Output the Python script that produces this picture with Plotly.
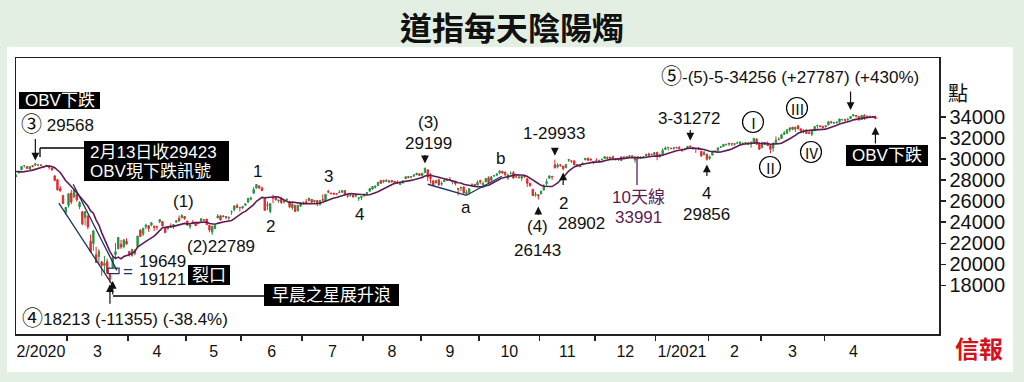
import pandas as pd
import plotly.graph_objects as go

# ---------------- data (Dow Jones daily OHLC, Feb 3 2020 - Apr 28 2021) ----------------
month_labels = ["2/2020", "3", "4", "5", "6", "7", "8", "9", "10", "11", "12", "1/2021", "2", "3", "4"]
month_trading_days = [19, 22, 21, 20, 22, 22, 21, 21, 22, 20, 22, 19, 19, 23, 21]
y_tick_values = [18000, 20000, 22000, 24000, 26000, 28000, 30000, 32000, 34000]

warmup_closes = [29196, 29186, 29160, 28990, 28536, 28723, 28734, 28860, 28256]  # late Jan 2020, for the 10-day line

opens = [
    28319, 28696, 28982, 29364, 29286, 29020, 29365, 29406, 29420, 29440, 29279, 29390, 29318, 29150, 28402, 28024, 27200, 26526, 24915,
    25590, 26762, 26383, 26671, 25458, 24992, 24453, 24604, 22185, 21973, 20917, 20739, 20252, 19900, 20253, 19028, 19722, 20918, 21469, 21898, 21678, 22208,
    21227, 20819, 21285, 21694, 23260, 22874, 23563, 23675, 23729, 23636, 23550, 24033, 24064, 23438, 23368, 23532, 23567, 23990, 24362, 24425, 24537,
    24120, 23572, 23988, 23999, 23915, 24083, 24229, 24302, 23705, 23049, 23408, 24404, 24600, 24495, 24530, 24391, 24993, 25187, 25572, 25384,
    25344, 25616, 25887, 26180, 26737, 27232, 27447, 27251, 26283, 25659, 25011, 26337, 26301, 26016, 26245, 25900, 26129, 25981, 25364, 25603, 25089, 25513,
    25879, 25933, 26052, 26167, 25935, 26053, 25704, 26150, 25958, 26911, 26740, 26763, 26685, 26791, 26850, 26993, 26505, 26532, 26568, 26444, 26256, 26325,
    26502, 26616, 26934, 27138, 27302, 27480, 27925, 27844, 27964, 27796, 27950, 27874, 27794, 27581, 27745, 28123, 28342, 28274, 28369, 28493, 28599,
    28439, 28689, 28966, 28341, 27934, 27713, 28022, 27606, 27839, 28084, 28043, 27804, 27893, 27205, 27245, 27344, 26709, 26808, 27482, 27593, 27510,
    27941, 27536, 27825, 28214, 27971, 28389, 28461, 28671, 28838, 28724, 28178, 28597, 28706, 28298, 28290, 28172, 28398, 28123, 27697, 27124, 26567, 26574,
    26681, 27047, 27668, 28158, 28340, 29440, 29252, 29452, 29330, 29156, 29870, 29830, 29803, 29328, 29432, 29450, 29910, 30082, 29998, 29751,
    29829, 29749, 29930, 30046, 30162, 30061, 30203, 29998, 29944, 30196, 30034, 30222, 30232, 30296, 29908, 30217, 30054, 30149, 30283, 30492, 30415, 30417,
    30627, 30205, 30400, 30904, 31069, 31016, 31015, 31087, 31085, 30926, 30887, 31035, 31232, 31087, 31004, 31036, 30730, 30415, 30461,
    30054, 30363, 30721, 30795, 31091, 31181, 31340, 31490, 31441, 31371, 31518, 31409, 31472, 31560, 31395, 31417, 31500, 31878, 31484,
    31065, 31566, 31416, 31265, 31025, 31532, 31860, 31940, 32330, 32444, 32757, 33005, 32826, 33132, 32862, 32643, 32733, 32483, 32339, 32681, 33134, 33137, 33085,
    33054, 33222, 33522, 33436, 33452, 33508, 33740, 33766, 33693, 33843, 34082, 34123, 34029, 33745, 34138, 33898, 34064, 34001, 34004,
]
highs = [
    28592, 28892, 29301, 29409, 29286, 29278, 29416, 29568, 29489, 29440, 29333, 29407, 29370, 29150, 28402, 28112, 27454, 26545, 25450,
    26706, 27084, 27102, 26671, 25994, 24992, 25020, 24604, 22837, 23186, 21666, 21451, 20254, 20800, 20531, 19121, 20737, 22019, 22595, 22327, 22378, 22480,
    21227, 21477, 21447, 22701, 23328, 23449, 23860, 23675, 24016, 23636, 23672, 24264, 24064, 23438, 23566, 23887, 23782, 24187, 24638, 24764, 24537,
    24120, 23779, 24208, 24002, 24026, 24370, 24285, 24303, 23706, 23630, 23714, 24779, 24676, 24657, 24548, 24509, 25110, 25565, 25762, 25431,
    25562, 25743, 26270, 26425, 27338, 27580, 27447, 27355, 26283, 25960, 25796, 26611, 26406, 26123, 26409, 26096, 26266, 25995, 25748, 25603, 25601, 25905,
    25958, 26204, 26292, 26186, 26073, 26053, 26078, 26631, 26659, 27075, 26803, 26763, 26720, 27041, 27012, 27054, 26567, 26592, 26598, 26636, 26360, 26475,
    26682, 26840, 27223, 27401, 27460, 27799, 28029, 27998, 28073, 27960, 28016, 27875, 27981, 27767, 27934, 28363, 28342, 28366, 28502, 28658, 28599,
    28651, 29199, 28966, 28647, 27934, 28037, 28143, 27880, 28119, 28138, 28288, 27977, 27893, 27205, 27406, 27391, 27081, 27213, 27688, 27593, 27950,
    28042, 27861, 28162, 28354, 28370, 28481, 28592, 28956, 28838, 28840, 28527, 28826, 28860, 28531, 28481, 28425, 28404, 28123, 27697, 27124, 26889, 26669,
    27018, 27602, 28112, 28446, 28393, 29933, 29593, 29452, 29330, 29504, 29964, 29830, 29888, 29516, 29455, 29681, 30116, 30082, 29998, 29751,
    30083, 29893, 30004, 30219, 30233, 30190, 30319, 30075, 30053, 30218, 30210, 30225, 30326, 30296, 30226, 30233, 30262, 30209, 30525, 30588, 30526, 30637,
    30674, 30504, 31022, 31193, 31140, 31043, 31119, 31153, 31223, 30937, 31018, 31235, 31272, 31087, 31035, 31126, 30730, 30773, 30461,
    30335, 30771, 30837, 31058, 31232, 31386, 31469, 31517, 31485, 31464, 31644, 31641, 31527, 31618, 31631, 31687, 31982, 31964, 31565,
    31625, 31617, 31670, 31310, 31574, 32150, 32047, 32389, 32661, 32793, 32960, 33056, 33047, 33227, 32862, 32784, 32811, 32759, 32660, 33098, 33259, 33173, 33163,
    33167, 33617, 33618, 33530, 33518, 33810, 33783, 33786, 33913, 34037, 34256, 34145, 34029, 34147, 34243, 34145, 34092, 34066, 34106,
]
lows = [
    28319, 28600, 28981, 29170, 29056, 29020, 29225, 29406, 29314, 29315, 29117, 29292, 29000, 28860, 27882, 26996, 26927, 25750, 24681,
    25391, 25706, 26287, 25943, 25226, 23707, 23690, 23328, 21154, 21285, 20117, 19935, 18917, 19177, 19094, 18213, 19649, 20543, 21469, 21469, 21522, 21890,
    20735, 20737, 20863, 21694, 22634, 22681, 23334, 23083, 23606, 23173, 23270, 23918, 23601, 22942, 23300, 23480, 23373, 23990, 24083, 24365, 24239,
    23645, 23361, 23804, 23645, 23821, 24083, 24071, 23760, 23042, 22789, 23317, 24404, 24197, 24495, 24281, 24229, 24689, 25037, 25313, 25021,
    25262, 25522, 25887, 26056, 26737, 27232, 27129, 26964, 25082, 25159, 24843, 25806, 26071, 25833, 25722, 25768, 25996, 25326, 25172, 24971, 25009, 25500,
    25728, 25792, 25961, 25865, 25818, 25523, 25574, 26069, 25921, 26739, 26598, 26598, 26551, 26791, 26784, 26539, 26312, 26417, 26366, 26444, 26022, 26084,
    26435, 26593, 26934, 27059, 27199, 27416, 27613, 27708, 27809, 27707, 27751, 27583, 27664, 27513, 27645, 28104, 28158, 28164, 28306, 28493, 28395,
    28259, 28689, 27908, 27664, 27456, 27713, 27452, 27467, 27839, 27911, 27968, 27589, 27485, 26537, 26960, 26718, 26537, 26620, 27389, 27373, 27510,
    27596, 27383, 27825, 27728, 27971, 28297, 28364, 28544, 28583, 28381, 28001, 28597, 28091, 28196, 28178, 27923, 28199, 27351, 27387, 26502, 26414, 26143,
    26681, 27047, 27440, 28158, 28014, 29100, 29101, 29256, 28902, 29156, 29717, 29625, 29430, 29222, 29249, 29445, 29910, 29813, 29851, 29506,
    29736, 29617, 29859, 30022, 30027, 29977, 30005, 29852, 29822, 29850, 29954, 30081, 30166, 30070, 29643, 29987, 30054, 30123, 30283, 30316, 30393, 30393,
    29881, 30155, 30388, 30897, 30793, 30906, 30865, 30997, 30974, 30670, 30806, 30969, 31089, 30851, 30577, 30848, 30183, 30338, 29856,
    29905, 30363, 30641, 30774, 31091, 31181, 31276, 31234, 31235, 31269, 31423, 31326, 31293, 31404, 31380, 31058, 31445, 31376, 30864,
    31065, 31366, 31260, 30547, 30687, 31532, 31782, 31940, 32330, 32356, 32547, 32718, 32545, 32781, 32525, 32428, 32381, 32401, 32167, 32681, 32867, 33019, 32949,
    32985, 33222, 33402, 33312, 33327, 33426, 33609, 33565, 33647, 33843, 34082, 33905, 33600, 33713, 33716, 33817, 33857, 33893, 33800,
]
closes = [
    28400, 28808, 29291, 29380, 29103, 29277, 29276, 29551, 29423, 29398, 29232, 29348, 29220, 28992, 27961, 27081, 26957, 25766, 25409,
    26703, 25917, 27091, 26121, 25864, 23851, 25018, 23553, 21200, 23185, 20188, 21237, 19899, 20087, 19174, 18591, 20704, 21200, 22552, 21637, 22327, 21917,
    20943, 21413, 21052, 22680, 22653, 23433, 23719, 23390, 23949, 23504, 23537, 24242, 23650, 23018, 23475, 23515, 23775, 24134, 24101, 24634, 24346,
    23724, 23749, 23883, 23664, 23875, 24331, 24221, 23764, 23248, 23625, 23685, 24597, 24206, 24576, 24474, 24465, 24995, 25548, 25401, 25383,
    25475, 25742, 26269, 26282, 27111, 27572, 27272, 26990, 25128, 25606, 25763, 26290, 26120, 26080, 25871, 26025, 26156, 25445, 25745, 25016, 25596, 25813,
    25734, 25827, 26287, 25890, 26067, 25706, 26075, 26086, 26643, 26870, 26734, 26672, 26680, 26840, 27005, 26652, 26470, 26584, 26379, 26539, 26314, 26428,
    26664, 26828, 27202, 27387, 27433, 27791, 27687, 27977, 27897, 27931, 27844, 27778, 27693, 27740, 27930, 28308, 28249, 28332, 28492, 28654, 28430,
    28646, 29100, 28292, 28133, 27501, 27940, 27535, 27666, 27993, 27995, 28032, 27902, 27657, 27148, 27289, 26764, 26816, 27174, 27585, 27453, 27782,
    27817, 27683, 28149, 27773, 28303, 28426, 28587, 28838, 28680, 28515, 28494, 28606, 28195, 28309, 28211, 28364, 28336, 27685, 27464, 26520, 26659, 26502,
    26925, 27480, 27847, 28390, 28323, 29158, 29421, 29398, 29080, 29480, 29950, 29784, 29438, 29483, 29263, 29591, 30046, 29872, 29910, 29638,
    29823, 29883, 29969, 30218, 30069, 30174, 30068, 29999, 30046, 29861, 30199, 30155, 30303, 30179, 30216, 30015, 30129, 30200, 30404, 30336, 30409, 30606,
    30224, 30392, 30829, 31041, 31098, 31009, 31068, 31060, 30991, 30814, 30931, 31188, 31176, 30997, 30960, 30937, 30303, 30603, 29983,
    30212, 30688, 30724, 31055, 31148, 31385, 31375, 31437, 31430, 31458, 31523, 31613, 31494, 31494, 31522, 31537, 31962, 31402, 30932,
    31535, 31391, 31270, 30924, 31496, 31802, 31832, 32297, 32485, 32779, 32953, 32826, 33015, 32862, 32628, 32732, 32423, 32420, 32619, 33073, 33171, 33067, 32982,
    33153, 33527, 33430, 33446, 33504, 33800, 33746, 33677, 33730, 34036, 34201, 34078, 33821, 34138, 33815, 34043, 33982, 33985, 33820,
]

# analyst lines drawn on the chart: (trading-day index, index level)
crash_channel_lower = ([15.5, 35.0], [25800, 18000])
crash_channel_upper = ([20.7, 36.5], [27600, 19430])
wave_a_line = ([149.0, 163.0], [27600, 26555])
wave_b_line = ([163.0, 175.8], [26555, 28360])
gap_box_x = [33.3, 37.3]
gap_box_y = [19121, 19649]

n = len(closes)
assert len(opens) == len(highs) == len(lows) == n
idx = list(range(n))
ma10 = pd.Series(warmup_closes + closes).rolling(10).mean().iloc[len(warmup_closes):].tolist()

starts = [sum(month_trading_days[:i]) for i in range(len(month_trading_days))]
centers = [s + (d - 1) / 2 for s, d in zip(starts, month_trading_days)]
boundaries = [s - 0.5 for s in starts[1:]]

# ---------------- geometry / style ----------------
W, H = 1024, 382
L, R, T, B = 16, 939, 58, 334
PW, PH = R - L, B - T
GREEN, RED, PURPLE, NAVY = "#2b9142", "#e8262d", "#5e1c55", "#1d3461"
BGGREEN = "#e2efe2"
FONT = "Liberation Sans, Arial, Noto Sans CJK TC, sans-serif"
CJK = "Noto Sans CJK TC, Liberation Sans, sans-serif"


def pxx(px):
    return (px - L) / PW


def pyy(py):
    return (B - py) / PH


def big(ch):
    return f'<span style="font-size:21px">{ch}</span>'


fig = go.Figure()
fig.add_trace(go.Candlestick(
    x=idx, open=opens, high=highs, low=lows, close=closes,
    increasing=dict(line=dict(color=GREEN, width=1), fillcolor=GREEN),
    decreasing=dict(line=dict(color=RED, width=1), fillcolor=RED),
    whiskerwidth=0, showlegend=False, hoverinfo="skip"))
fig.add_trace(go.Scatter(x=idx, y=ma10, mode="lines", line=dict(color=PURPLE, width=1.6),
                         showlegend=False, hoverinfo="skip"))
for xs, ys in [crash_channel_lower, crash_channel_upper, wave_a_line, wave_b_line]:
    fig.add_trace(go.Scatter(x=xs, y=ys, mode="lines", line=dict(color=NAVY, width=1.3),
                             showlegend=False, hoverinfo="skip"))

shapes = []
# white panel
shapes.append(dict(type="rect", xref="paper", yref="paper", x0=pxx(7), x1=pxx(1013), y0=pyy(372), y1=pyy(47),
                   fillcolor="white", line=dict(width=0), layer="below"))
# gap box
shapes.append(dict(type="rect", xref="x", yref="y", x0=gap_box_x[0], x1=gap_box_x[1], y0=gap_box_y[0], y1=gap_box_y[1],
                   line=dict(color=NAVY, width=1.2)))
# black label boxes
for x0, y0, x1, y1 in [(19, 92, 100, 109), (84, 141, 229, 181), (188, 265, 230, 285), (264, 284, 399, 306), (846, 145, 928, 166)]:
    shapes.append(dict(type="rect", xref="paper", yref="paper", x0=pxx(x0), x1=pxx(x1), y0=pyy(y1), y1=pyy(y0),
                       fillcolor="black", line=dict(width=0), layer="above"))
# connector lines
for x0, y0, x1, y1, col in [(40, 148, 84, 148, "black"), (40, 148, 40, 157, "black"),
                            (113, 296, 264, 296, "black"), (637, 159, 637, 185, PURPLE)]:
    shapes.append(dict(type="line", xref="paper", yref="paper", x0=pxx(x0), x1=pxx(x1), y0=pyy(y0), y1=pyy(y1),
                       line=dict(color=col, width=1.3)))
# circles around roman numerals
roman = [("Ⅰ", 753, 122), ("Ⅱ", 770, 167), ("Ⅲ", 797, 108), ("Ⅳ", 811, 152)]
for _, cx, cy in roman:
    shapes.append(dict(type="circle", xref="paper", yref="paper", x0=pxx(cx - 10.5), x1=pxx(cx + 10.5),
                       y0=pyy(cy + 10.5), y1=pyy(cy - 10.5), line=dict(color="black", width=1.2)))

ann = []


def text(t, px, py, size=17, color="#111", xanchor="center", family=FONT):
    ann.append(dict(x=pxx(px), y=pyy(py), xref="paper", yref="paper", text=t, showarrow=False,
                    xanchor=xanchor, yanchor="middle", font=dict(family=family, size=size, color=color)))


def arrow(xi, yv, ay, standoff):
    ann.append(dict(x=xi, y=yv, xref="x", yref="y", text="", showarrow=True, ax=0, ay=ay,
                    arrowhead=2, arrowsize=1.3, arrowwidth=1.2, arrowcolor="#111", standoff=standoff))


text("<b>道指每天陰陽燭</b>", 512, 26, size=32, family=CJK)
text("點", 958, 92, size=20, family=CJK)
text("<b>信報</b>", 979, 347, size=24, color="#d3121b", family=CJK)

for t, px, py, xa in [
    (big("③") + " 29568", 19, 123, "left"), ("(1)", 183, 201, "center"), ("1", 257, 171, "center"), ("2", 270, 226, "center"),
    ("3", 328, 176, "center"), ("4", 359, 214, "center"), ("(2)22789", 221, 247, "center"),
    ("19649", 137, 261, "left"), ("19121", 137, 279, "left"), (big("④") + "18213 (-11355) (-38.4%)", 20, 317, "left"),
    ("(3)", 428, 122, "center"), ("29199", 428, 143, "center"), ("a", 466, 207, "center"), ("b", 500, 158, "center"),
    ("1-29933", 554, 133, "center"), ("(4)", 537, 226, "center"), ("26143", 537, 250, "center"),
    ("2", 563, 203, "center"), ("28902", 581, 223, "center"), ("3-31272", 689, 118, "center"),
    ("4", 706, 193, "center"), ("29856", 706, 214, "center"), (big("⑤") + "-(5)-5-34256 (+27787) (+430%)", 790, 76, "center"),
]:
    text(t, px, py, xanchor=xa)
text("10天線", 638, 197, color=PURPLE)
text("33991", 638, 217, color=PURPLE)
text("=", 128, 271, color=NAVY)
for t, px, py, xa in [("OBV下跌", 60, 100, "center"), ("2月13日收29423", 88, 152, "left"), ("OBV現下跌訊號", 88, 171, "left"),
                      ("裂口", 209, 275, "center"), ("早晨之星展升浪", 331, 295, "center"), ("OBV下跌", 887, 155, "center")]:
    text(t, px, py, color="white", xanchor=xa)
for t, cx, cy in roman:
    text(t, cx, cy, size=15, family=CJK)

# arrows anchored on the candles they mark
arrow(7, 29568, -26, 3)      # ③ 29568
arrow(34, 18213, 22, 1)      # ④ 18213
arrow(35, 19649, 28, 13)     # morning star
arrow(148, 29199, -14, 4)    # (3) 29199
arrow(195, 29933, -12, 4)    # 1-29933
arrow(189, 26143, 17, 7)     # (4) 26143
arrow(198, 28902, 16, 2)     # 2 28902
arrow(244, 31272, -17, 5)    # 3-31272
arrow(250, 29856, 17, 4)     # 4 29856
arrow(302, 34256, -24, 4)    # ⑤ 34256
arrow(n - 1, lows[-1], 26, 8)  # OBV down

fig.update_layout(
    width=W, height=H, autosize=False,
    margin=dict(l=L, r=W - R, t=T, b=H - B, pad=0),
    paper_bgcolor=BGGREEN, plot_bgcolor="white",
    shapes=shapes, annotations=ann, showlegend=False,
    xaxis=dict(range=[0, 334], showgrid=False, zeroline=False, showline=True, mirror=True,
               linecolor="#222", linewidth=1.5, tickmode="array", tickvals=centers, ticktext=month_labels,
               ticks="", ticklabelstandoff=2, tickfont=dict(family=FONT, size=16, color="#111"),
               rangeslider=dict(visible=False),
               minor=dict(tickmode="array", tickvals=boundaries, ticks="outside", ticklen=5,
                          tickcolor="#222", tickwidth=1.5, showgrid=False)),
    yaxis=dict(range=[13390, 39580], side="right", showgrid=False, zeroline=False, showline=True, mirror=True,
               linecolor="#222", linewidth=1.5, tickmode="array", tickvals=y_tick_values,
               ticktext=[str(v) for v in y_tick_values],
               ticks="outside", ticklen=5, tickcolor="#222", tickwidth=1.5,
               tickfont=dict(family=FONT, size=20, color="#111")),
)

fig.write_html("out.html", config={"displayModeBar": False, "staticPlot": True},
               post_script="document.body.style.margin='0';document.body.style.overflow='hidden';")
